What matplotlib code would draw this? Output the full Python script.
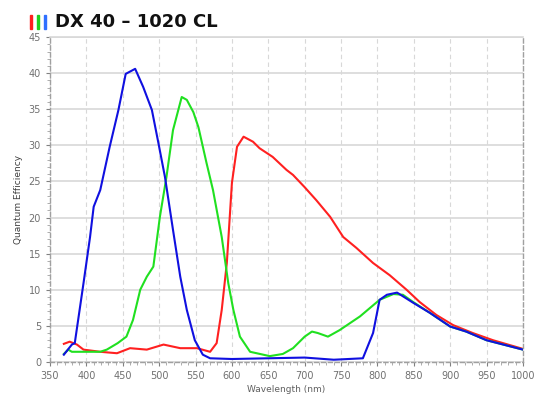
import matplotlib.pyplot as plt
from matplotlib.patches import Rectangle
from matplotlib.ticker import MultipleLocator

# Curvas de eficiencia cuántica (longitud de onda en nm, QE en %)
azul_wl = [369, 380, 384, 396, 405, 410, 419, 432, 444, 454, 467, 478, 490, 499, 508,
           519, 529, 538, 549, 560, 570, 600, 650, 700, 740, 780, 794, 803, 813, 827,
           849, 872, 900, 922, 950, 1000]
azul_qe = [1.0, 2.4, 2.6, 10.9, 17.3, 21.5, 23.8, 29.8, 34.9, 39.9, 40.6, 38.1, 34.9, 30.3, 25.6,
           18.3, 11.8, 7.2, 3.0, 1.0, 0.5, 0.4, 0.5, 0.6, 0.3, 0.5, 4.0, 8.6, 9.3, 9.6,
           8.2, 6.8, 4.9, 4.2, 3.0, 1.7]

verde_wl = [369, 375, 380, 396, 419, 428, 443, 455, 464, 474, 483, 492, 501, 510, 519,
            531, 538, 547, 554, 565, 574, 586, 595, 602, 611, 625, 652, 670, 684, 700,
            710, 718, 732, 748, 776, 803, 822, 835, 849, 872, 900, 922, 950, 1000]
verde_qe = [1.1, 1.7, 1.4, 1.4, 1.4, 1.7, 2.6, 3.5, 5.8, 10.0, 11.8, 13.2, 20.1, 25.6, 32.1,
            36.7, 36.3, 34.6, 32.5, 27.6, 23.8, 17.3, 10.9, 7.2, 3.5, 1.4, 0.8, 1.1, 1.9, 3.5,
            4.2, 4.0, 3.5, 4.4, 6.3, 8.6, 9.4, 9.3, 8.3, 6.8, 4.9, 4.2, 3.0, 1.7]

rojo_wl = [369, 377, 387, 396, 419, 442, 460, 483, 506, 529, 552, 570, 579, 586, 593,
           600, 607, 616, 629, 638, 656, 675, 684, 700, 716, 735, 753, 771, 794, 817,
           840, 858, 881, 904, 931, 959, 1000]
rojo_qe = [2.5, 2.8, 2.4, 1.7, 1.4, 1.2, 1.9, 1.7, 2.4, 1.9, 1.9, 1.4, 2.6, 7.2, 13.7,
           24.8, 29.8, 31.2, 30.5, 29.6, 28.4, 26.6, 25.9, 24.2, 22.4, 20.1, 17.3, 15.8, 13.7, 12.0,
           10.0, 8.3, 6.5, 5.1, 4.0, 3.0, 1.8]

fig = plt.figure(figsize=(5.38, 4.03), dpi=100)
ax = fig.add_axes([0.093, 0.102, 0.879, 0.806])

ax.plot(rojo_wl, rojo_qe, color="#ff2020", lw=1.5)
ax.plot(verde_wl, verde_qe, color="#20e020", lw=1.5)
ax.plot(azul_wl, azul_qe, color="#1010e0", lw=1.5)

ax.set_xlim(350, 1000)
ax.set_ylim(0, 45)
ax.xaxis.set_major_locator(MultipleLocator(50))
ax.xaxis.set_minor_locator(MultipleLocator(10))
ax.yaxis.set_major_locator(MultipleLocator(5))
ax.yaxis.set_minor_locator(MultipleLocator(1))

ax.grid(axis="y", which="major", color="#d8d8d8", lw=1.2, ls="-")
ax.grid(axis="x", which="major", color="#d8d8d8", lw=0.8, ls=(0, (4, 3)))
ax.set_axisbelow(True)

for lado in ["left", "bottom", "right"]:
    ax.spines[lado].set_color("#a0a0a0")
    ax.spines[lado].set_linestyle((0, (3, 2)))
    ax.spines[lado].set_linewidth(1.0)
ax.spines["top"].set_color("#d8d8d8")
ax.spines["top"].set_linewidth(1.2)

ax.tick_params(axis="both", which="major", labelsize=7, colors="#808080", length=3)
ax.tick_params(axis="both", which="minor", colors="#a0a0a0", length=2)
for lbl in ax.get_xticklabels() + ax.get_yticklabels():
    lbl.set_color("#707070")

ax.set_xlabel("Wavelength (nm)", fontsize=6.5, color="#606060", labelpad=3)
ax.set_ylabel("Quantum Efficiency", fontsize=6.5, color="#404040", labelpad=4)

# Título con las tres barritas de colores
for i, c in enumerate(["#ff2020", "#20d020", "#3070ff"]):
    fig.patches.append(Rectangle((0.056 + i * 0.013, 0.928), 0.004, 0.034,
                                 transform=fig.transFigure, color=c))
fig.text(0.102, 0.945, "DX 40 \u2013 1020 CL", fontsize=13, fontweight="bold",
         color="#111111", va="center", ha="left")

fig.savefig("out.png", dpi=100)
